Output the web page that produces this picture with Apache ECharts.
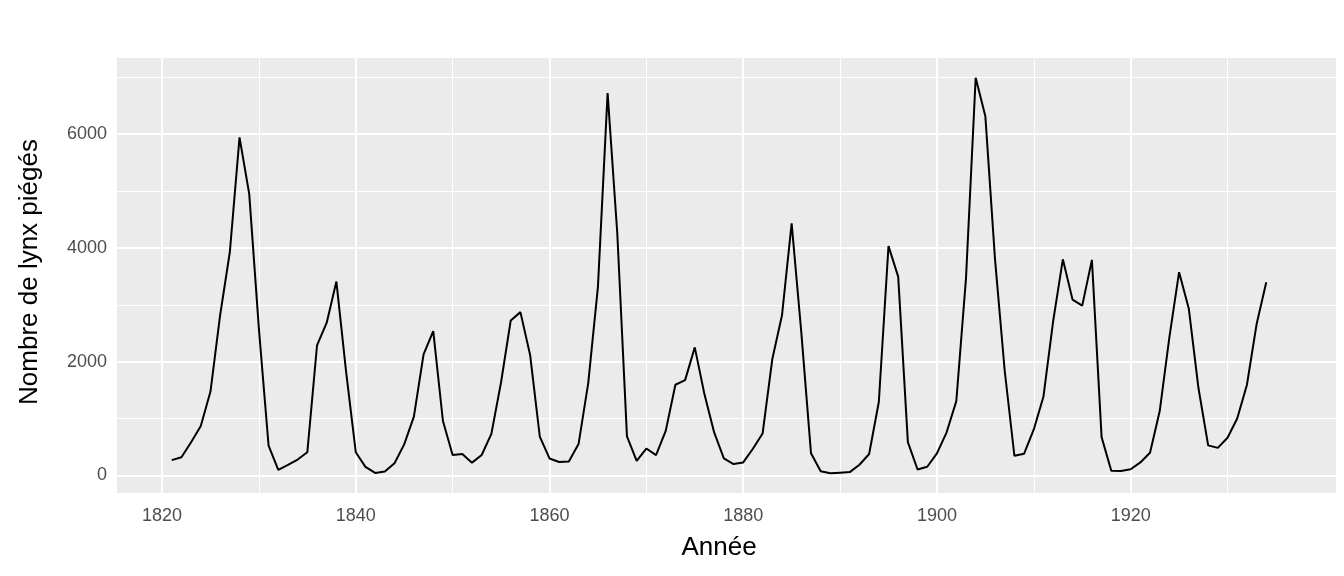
<!DOCTYPE html>
<html><head><meta charset="utf-8">
<script src="https://cdn.jsdelivr.net/npm/echarts@6/dist/echarts.min.js"></script>
<style>html,body{margin:0;padding:0;background:#fff}#c{width:1344px;height:576px}</style>
</head><body><div id="c"></div>
<script>
const startYear = 1821;
const lynx = [269,321,585,871,1475,2821,3928,5943,4950,2577,523,98,184,279,409,2285,2685,3409,1824,409,151,45,68,213,546,1033,2129,2536,957,361,377,225,360,731,1638,2725,2871,2119,684,299,236,245,552,1623,3311,6721,4254,687,255,473,358,784,1594,1676,2251,1426,756,299,201,229,469,736,2042,2811,4431,2511,389,73,39,49,59,188,377,1292,4031,3495,587,105,153,387,758,1307,3465,6991,6313,3794,1836,345,382,808,1388,2713,3800,3091,2985,3790,674,81,80,108,229,399,1132,2432,3574,2935,1537,529,485,662,1000,1590,2657,3396];
const xMajor = [1820,1840,1860,1880,1900,1920];
const xMinor = [1830,1850,1870,1890,1910,1930];
const yMajor = [0,2000,4000,6000];
const yMinor = [1000,3000,5000,7000];
const data = lynx.map((v,i)=>[startYear+i,v]);
const lblStyle = {color:'#4D4D4D', fontSize:18, fontFamily:'Liberation Sans'};
const mk = (arr, axis, w, showLabel) => arr.map(v => ({
  [axis]: v,
  lineStyle:{color:'#fff', width:w, type:'solid'},
  label: showLabel ? Object.assign({show:true, position:'start', distance:axis==='yAxis'?10:14, formatter: String(v)}, lblStyle) : {show:false}
}));
const chart = echarts.init(document.getElementById('c'));
chart.setOption({
  animation:false,
  grid:{left:117,right:8,top:58,bottom:83,show:true,backgroundColor:'#EBEBEB',borderWidth:0},
  xAxis:{type:'value',min:1815.35,max:1941.2,axisLine:{show:false},axisTick:{show:false},axisLabel:{show:false},splitLine:{show:false}},
  yAxis:{type:'value',min:-308.6,max:7338.6,axisLine:{show:false},axisTick:{show:false},axisLabel:{show:false},splitLine:{show:false}},
  graphic:[
    {type:'text',x:719,y:548,style:{text:'Année',fontSize:26,fill:'#000',fontFamily:'Liberation Sans',align:'center',verticalAlign:'middle'}},
    {type:'text',x:30,y:272,rotation:Math.PI/2,style:{text:'Nombre de lynx piégés',fontSize:26,fill:'#000',fontFamily:'Liberation Sans',align:'center',verticalAlign:'middle'}}
  ],
  series:[{
    type:'line',data:data,showSymbol:false,
    lineStyle:{color:'#000',width:2},
    markLine:{silent:true,symbol:'none',z:0,
      data:[...mk(xMinor,'xAxis',1,false),...mk(yMinor,'yAxis',1,false),...mk(xMajor,'xAxis',2,true),...mk(yMajor,'yAxis',2,true)]}
  }]
});
</script></body></html>
